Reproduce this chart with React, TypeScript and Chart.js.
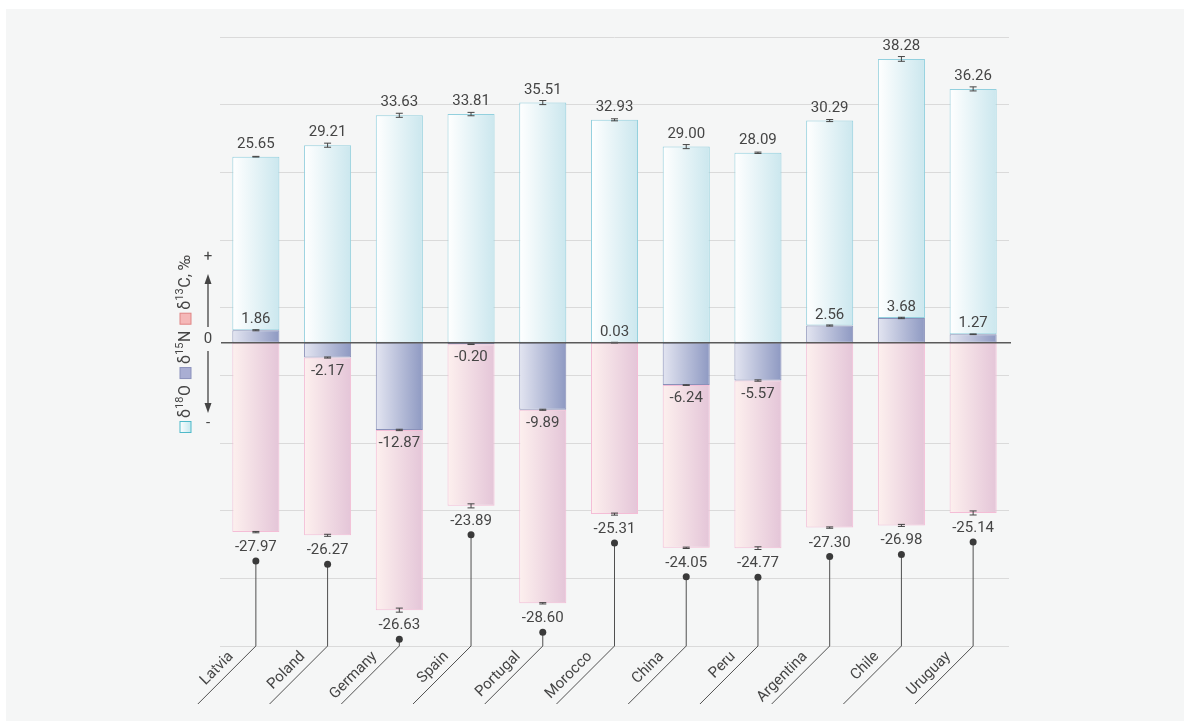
import React, { useEffect, useRef } from "react";
import { Chart, registerables } from "chart.js";

Chart.register(...registerables);

// ---------- data ----------
const countries = ["Latvia", "Poland", "Germany", "Spain", "Portugal", "Morocco", "China", "Peru", "Argentina", "Chile", "Uruguay"];
const d18O = [25.65, 29.21, 33.63, 33.81, 35.51, 32.93, 29.0, 28.09, 30.29, 38.28, 36.26];
const d15N = [1.86, -2.17, -12.87, -0.2, -9.89, 0.03, -6.24, -5.57, 2.56, 3.68, 1.27];
const d13C = [-27.97, -26.27, -26.63, -23.89, -28.6, -25.31, -24.05, -24.77, -27.3, -26.98, -25.14];
const err18O = [0.05, 0.3, 0.3, 0.25, 0.3, 0.15, 0.3, 0.1, 0.15, 0.35, 0.3];
const err15N = [0.08, 0.08, 0.1, 0.05, 0.08, 0.05, 0.05, 0.1, 0.08, 0.1, 0.05];
const err13C = [0.1, 0.15, 0.3, 0.3, 0.1, 0.15, 0.1, 0.2, 0.1, 0.15, 0.3];
const yMin = -44.8;
const yMax = 45.2;
const gridValues = [-44.8, -34.8, -24.8, -14.8, -4.8, 5.2, 15.2, 25.2, 35.2, 45.2];

// ---------- layout / style ----------
const OX = 6;
const OY = 9;
const W = 1178;
const H = 712;
const BAR = 0.656;
const FONT = "Roboto, 'Noto Sans', sans-serif";
const TEXT = "#454545";

const fmt = (v: number) => v.toFixed(2);

function gradFill(c0: string, c1: string) {
  return (ctx: any) => {
    const chart = ctx.chart;
    const area = chart.chartArea;
    if (!area || ctx.dataIndex === undefined || !chart.scales.x) return c1;
    const cx = chart.scales.x.getPixelForValue(ctx.dataIndex);
    const w = ((area.right - area.left) / countries.length) * BAR;
    const g = chart.ctx.createLinearGradient(cx - w / 2, 0, cx + w / 2, 0);
    g.addColorStop(0, c0);
    g.addColorStop(1, c1);
    return g;
  };
}

function drawIso(ctx: CanvasRenderingContext2D, x: number, pre: string, sup: string, post: string) {
  ctx.textAlign = "left";
  ctx.textBaseline = "middle";
  ctx.font = `16px ${FONT}`;
  ctx.fillText(pre, x, 0);
  let p = x + ctx.measureText(pre).width;
  ctx.font = `11px ${FONT}`;
  ctx.fillText(sup, p, -5);
  p += ctx.measureText(sup).width + 0.5;
  ctx.font = `16px ${FONT}`;
  ctx.fillText(post, p, 0);
  p += ctx.measureText(post).width;
  return p - x;
}

const overlay = {
  id: "overlay",
  afterDatasetsDraw(chart: any) {
    const ctx: CanvasRenderingContext2D = chart.ctx;
    const xs = chart.scales.x;
    const ys = chart.scales.y;
    const area = chart.chartArea;
    const y0 = ys.getPixelForValue(0);

    // error bars
    const errBar = (cx: number, v: number, e: number) => {
      const a = ys.getPixelForValue(v + e);
      const b = ys.getPixelForValue(v - e);
      ctx.beginPath();
      ctx.moveTo(cx, a);
      ctx.lineTo(cx, b);
      ctx.moveTo(cx - 3.5, a);
      ctx.lineTo(cx + 3.5, a);
      ctx.moveTo(cx - 3.5, b);
      ctx.lineTo(cx + 3.5, b);
      ctx.stroke();
    };
    ctx.save();
    ctx.strokeStyle = "#444";
    ctx.lineWidth = 1;
    countries.forEach((_, i) => {
      const cx = xs.getPixelForValue(i);
      const pos = Math.max(d15N[i], 0);
      const neg = Math.min(d15N[i], 0);
      errBar(cx, pos + d18O[i], err18O[i]);
      errBar(cx, d15N[i], err15N[i]);
      errBar(cx, neg + d13C[i], err13C[i]);
    });
    ctx.restore();

    // zero line
    ctx.save();
    ctx.strokeStyle = "#5a5a5a";
    ctx.lineWidth = 1.5;
    ctx.beginPath();
    ctx.moveTo(area.left + 1, y0);
    ctx.lineTo(area.right + 2, y0);
    ctx.stroke();
    ctx.restore();

    // value labels, pointers, category labels
    ctx.save();
    ctx.fillStyle = TEXT;
    ctx.textAlign = "center";
    ctx.textBaseline = "alphabetic";
    countries.forEach((name, i) => {
      const cx = xs.getPixelForValue(i);
      const pos = Math.max(d15N[i], 0);
      const neg = Math.min(d15N[i], 0);
      const top = ys.getPixelForValue(pos + d18O[i]);
      ctx.font = `15px ${FONT}`;
      ctx.fillText(fmt(d18O[i]), cx, top - 9);
      const pEnd = ys.getPixelForValue(d15N[i]);
      if (d15N[i] >= 0) ctx.fillText(fmt(d15N[i]), cx, pEnd - 7);
      else ctx.fillText(fmt(d15N[i]), cx, pEnd + 17);
      const bot = ys.getPixelForValue(neg + d13C[i]);
      const base = bot + 19;
      ctx.fillText(fmt(d13C[i]), cx, base);

      // pointer
      const dotY = base + 10;
      ctx.strokeStyle = "#505050";
      ctx.lineWidth = 1;
      ctx.beginPath();
      ctx.moveTo(cx, dotY);
      ctx.lineTo(cx, area.bottom);
      ctx.lineTo(cx - 58, area.bottom + 58);
      ctx.stroke();
      ctx.beginPath();
      ctx.arc(cx, dotY, 3.5, 0, Math.PI * 2);
      ctx.fillStyle = "#3a3a3a";
      ctx.fill();
      ctx.fillStyle = TEXT;

      // category label
      ctx.save();
      ctx.translate(cx - 22, area.bottom + 11);
      ctx.rotate(-Math.PI / 4);
      ctx.textAlign = "right";
      ctx.font = `15px ${FONT}`;
      ctx.fillText(name, 0, 0);
      ctx.restore();
    });
    ctx.restore();

    // legend (page coords)
    ctx.save();
    ctx.translate(-OX, -OY);
    ctx.fillStyle = TEXT;

    // arrows and signs
    const ax = 208;
    ctx.font = `15px ${FONT}`;
    ctx.textAlign = "center";
    ctx.textBaseline = "middle";
    ctx.fillText("+", ax, 257);
    ctx.fillText("0", ax, 339);
    ctx.fillText("-", ax, 423);
    ctx.strokeStyle = "#444";
    ctx.lineWidth = 1.3;
    ctx.beginPath();
    ctx.moveTo(ax, 327);
    ctx.lineTo(ax, 280);
    ctx.moveTo(ax, 351);
    ctx.lineTo(ax, 407);
    ctx.stroke();
    ctx.fillStyle = "#444";
    ctx.beginPath();
    ctx.moveTo(ax, 274);
    ctx.lineTo(ax - 3.5, 284);
    ctx.lineTo(ax + 3.5, 284);
    ctx.closePath();
    ctx.fill();
    ctx.beginPath();
    ctx.moveTo(ax, 413);
    ctx.lineTo(ax - 3.5, 403);
    ctx.lineTo(ax + 3.5, 403);
    ctx.closePath();
    ctx.fill();

    // rotated legend
    ctx.translate(185.5, 433);
    ctx.rotate(-Math.PI / 2);
    const square = (x: number, fill: string | CanvasGradient, stroke: string) => {
      ctx.fillStyle = fill;
      ctx.fillRect(x + 0.5, -5.5, 11, 11);
      ctx.strokeStyle = stroke;
      ctx.lineWidth = 1;
      ctx.strokeRect(x + 0.5, -5.5, 11, 11);
    };
    let p = 0;
    const cg = ctx.createLinearGradient(0, -6, 0, 6);
    cg.addColorStop(0, "#ffffff");
    cg.addColorStop(1, "#c3e7ee");
    square(p, cg, "#4fb9c9");
    p += 15;
    ctx.fillStyle = TEXT;
    p += drawIso(ctx, p, "δ", "18", "O") + 6;
    square(p, "#a9aed3", "#8b91bc");
    p += 15;
    ctx.fillStyle = TEXT;
    p += drawIso(ctx, p, "δ", "15", "N") + 6;
    square(p, "#f5b8b8", "#e08585");
    p += 15;
    ctx.fillStyle = TEXT;
    drawIso(ctx, p, "δ", "13", "C, ‰");
    ctx.restore();
  },
};

export default function App() {
  const ref = useRef<HTMLCanvasElement | null>(null);

  useEffect(() => {
    if (!ref.current) return;
    const chart = new Chart(ref.current, {
      type: "bar",
      data: {
        labels: countries,
        datasets: [
          {
            label: "δ15N",
            data: d15N,
            backgroundColor: gradFill("#e3e5f1", "#8e99c2"),
            borderColor: "#8a91b9",
            borderWidth: 1,
            borderSkipped: false,
            barPercentage: BAR,
            categoryPercentage: 1,
          },
          {
            label: "δ18O",
            data: d18O,
            backgroundColor: gradFill("#ffffff", "#cbe7ee"),
            borderColor: "#93d0de",
            borderWidth: 1,
            borderSkipped: false,
            barPercentage: BAR,
            categoryPercentage: 1,
          },
          {
            label: "δ13C",
            data: d13C,
            backgroundColor: gradFill("#fdf0ee", "#e4c5d8"),
            borderColor: "#f4bdd6",
            borderWidth: 1,
            borderSkipped: false,
            barPercentage: BAR,
            categoryPercentage: 1,
          },
        ],
      },
      options: {
        responsive: false,
        animation: false,
        layout: { padding: { left: 214, right: 175, top: 28, bottom: 75 } },
        plugins: { legend: { display: false }, tooltip: { enabled: false } },
        scales: {
          x: { stacked: true, display: false, offset: true },
          y: {
            stacked: true,
            min: yMin,
            max: yMax,
            display: true,
            ticks: { display: false },
            grid: { color: "#dadada", lineWidth: 1, drawTicks: false },
            border: { display: false },
            afterBuildTicks: (scale: any) => {
              scale.ticks = gridValues.map((v) => ({ value: v }));
            },
          },
        },
      },
      plugins: [overlay],
    });
    return () => chart.destroy();
  }, []);

  return (
    <div style={{ position: "absolute", left: OX, top: OY, width: W, height: H, background: "#f5f6f6" }}>
      <canvas ref={ref} width={W} height={H} style={{ width: W, height: H, display: "block" }} />
    </div>
  );
}
